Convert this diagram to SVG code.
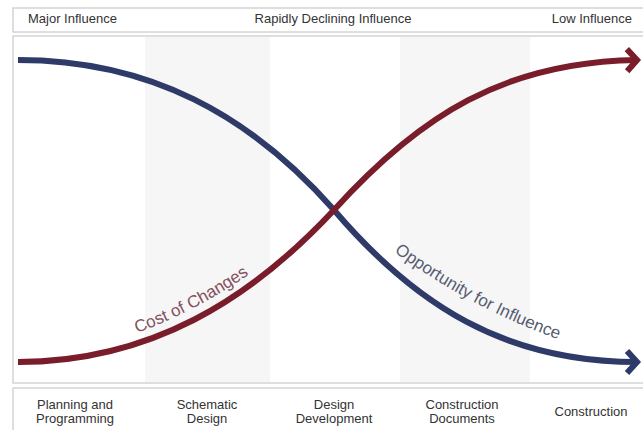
<svg xmlns="http://www.w3.org/2000/svg" width="643" height="430" viewBox="0 0 643 430">
<style>
  .hdr { font-family: "Liberation Sans", Arial, sans-serif; font-size: 13px; fill: #333; }
  .phase { font-family: "Liberation Sans", Arial, sans-serif; font-size: 13px; fill: #333; text-anchor: middle; }
  .band { fill: #ffffff; stroke: #d4d4d4; stroke-width: 1.5; }
  .stripe { fill: #f6f6f7; }
  .curve { fill: none; stroke-width: 6; stroke-linecap: butt; }
  .blue { stroke: #2e3b68; }
  .red { stroke: #7a1d2b; }
  .lbl { font-family: "Liberation Sans", Arial, sans-serif; font-size: 17px; }
</style>
<defs>
  <marker id="arrR" markerUnits="userSpaceOnUse" orient="auto" overflow="visible" markerWidth="1" markerHeight="1" refX="0" refY="0">
    <path d="M-10,-11 L0,0 L-10,11" fill="none" stroke="#7a1d2b" stroke-width="6"/>
  </marker>
  <marker id="arrB" markerUnits="userSpaceOnUse" orient="auto" overflow="visible" markerWidth="1" markerHeight="1" refX="0" refY="0">
    <path d="M-10,-11 L0,0 L-10,11" fill="none" stroke="#2e3b68" stroke-width="6"/>
  </marker>
  <path id="costPath" d="M137,333 Q195,312 254,271"/>
  <path id="oppPath" d="M394,252 Q475,310 558,339"/>
</defs>
<rect width="643" height="430" fill="#ffffff"/>

<g id="header">
  <rect class="band" x="13" y="8" width="640" height="24"/>
  <text class="hdr" x="28" y="22.5">Major Influence</text>
  <text class="hdr" x="333" y="22.5" text-anchor="middle">Rapidly Declining Influence</text>
  <text class="hdr" x="632" y="22.5" text-anchor="end">Low Influence</text>
</g>

<g id="panel">
  <rect class="band" x="13" y="36" width="640" height="347"/>
  <rect class="stripe" x="145" y="37" width="125" height="345"/>
  <rect class="stripe" x="400" y="37" width="130" height="345"/>
</g>

<g id="phases">
  <rect class="band" x="13" y="388" width="640" height="50"/>
  <g id="phase-planning">
    <text class="phase" x="75" y="408.5">Planning and</text>
    <text class="phase" x="75" y="422.5">Programming</text>
  </g>
  <g id="phase-schematic">
    <text class="phase" x="207" y="408.5">Schematic</text>
    <text class="phase" x="207" y="422.5">Design</text>
  </g>
  <g id="phase-dd">
    <text class="phase" x="334" y="408.5">Design</text>
    <text class="phase" x="334" y="422.5">Development</text>
  </g>
  <g id="phase-cd">
    <text class="phase" x="462" y="408.5">Construction</text>
    <text class="phase" x="462" y="422.5">Documents</text>
  </g>
  <g id="phase-construction">
    <text class="phase" x="591" y="415.5">Construction</text>
  </g>
</g>

<g id="connectors">
  <path id="opportunity" class="curve blue" d="M18,60 C150,60 250,115 334,210 C415,305 505,362 637,362" marker-end="url(#arrB)"/>
  <path id="cost" class="curve red" d="M18,362 C150,362 250,300 334,210 C420,115 505,62 637,60" marker-end="url(#arrR)"/>
</g>

<g id="labels">
  <text class="lbl" fill="#84505e"><textPath href="#costPath">Cost of Changes</textPath></text>
  <text class="lbl" fill="#575d72"><textPath href="#oppPath">Opportunity for Influence</textPath></text>
</g>
</svg>
